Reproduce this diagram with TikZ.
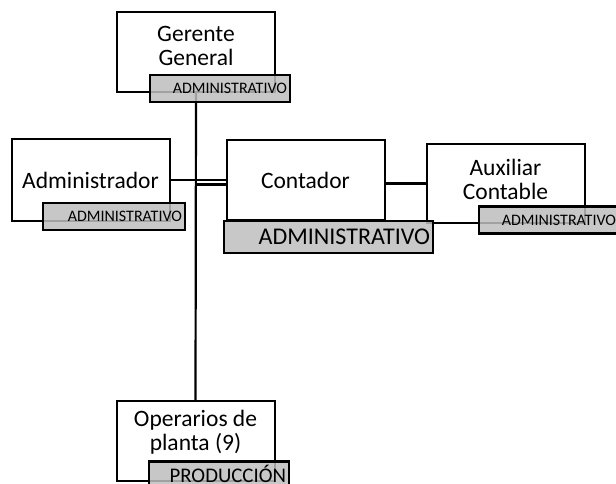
\documentclass[tikz,border=0pt]{standalone}
\usepackage{fontspec}
\setmainfont{Carlito}
\definecolor{labgray}{RGB}{190,190,190}
\begin{document}
\begin{tikzpicture}[x=1pt, y=-1pt,
    cargo/.style={draw, line width=2pt, fill=white, minimum width=158pt, minimum height=80pt,
        inner sep=0pt, align=center, font=\fontsize{23.5}{24}\selectfont},
    area/.style={draw, line width=2.6pt, fill=labgray, fill opacity=0.85, text opacity=1,
        minimum height=27pt, inner xsep=3pt, inner ysep=0pt, text width=134pt, align=right,
        font=\fontsize{16}{18}\selectfont},
    enlace/.style={line width=2.2pt}]
    \useasboundingbox (0,0) rectangle (616,484);

    % Define the centres of the boxes
    \coordinate (G) at (196,52);
    \coordinate (A) at (90.5,180);
    \coordinate (C) at (305.5,180);
    \coordinate (X) at (505.5,183.5);
    \coordinate (O) at (195.5,441);

    % Draw the boxes of the chart
    \node (ger) at (G) [cargo, text depth=12pt] {Gerente\\General};
    \node (adm) at (A) [cargo, minimum height=82pt] {Administrador};
    \node (con) at (C) [cargo] {Contador};
    \node (aux) at (X) [cargo, minimum height=79pt, text depth=8pt] {Auxiliar\\Contable};
    \node (ope) at (O) [cargo, text depth=22pt] {Operarios de\\planta (9)};

    % Draw the connectors
    \coordinate (J) at (196,184.5);
    \draw[enlace] (ger.south) -- (ope.north);
    \draw[enlace] (adm.east) -- (con.west);
    \draw[enlace] (J) -- (J -| con.west);
    \draw[enlace] (aux.west -| con.east) -- (aux.west);

    % Place the area labels on top
    \node (gerlab) at (220,88.5) [area] {ADMINISTRATIVO};
    \node (admlab) at (114,216.5) [area, text width=136pt] {ADMINISTRATIVO};
    \node (conlab) at (328.5,237) [area, text width=203pt, minimum height=32pt,
        font=\fontsize{24}{26}\selectfont] {ADMINISTRATIVO};
    \node (auxlab) at (549,220) [area] {ADMINISTRATIVO};
    \node (opelab) at (219,474) [area, minimum height=25pt,
        font=\fontsize{20.8}{24}\selectfont] {PRODUCCIÓN};
\end{tikzpicture}
\end{document}
